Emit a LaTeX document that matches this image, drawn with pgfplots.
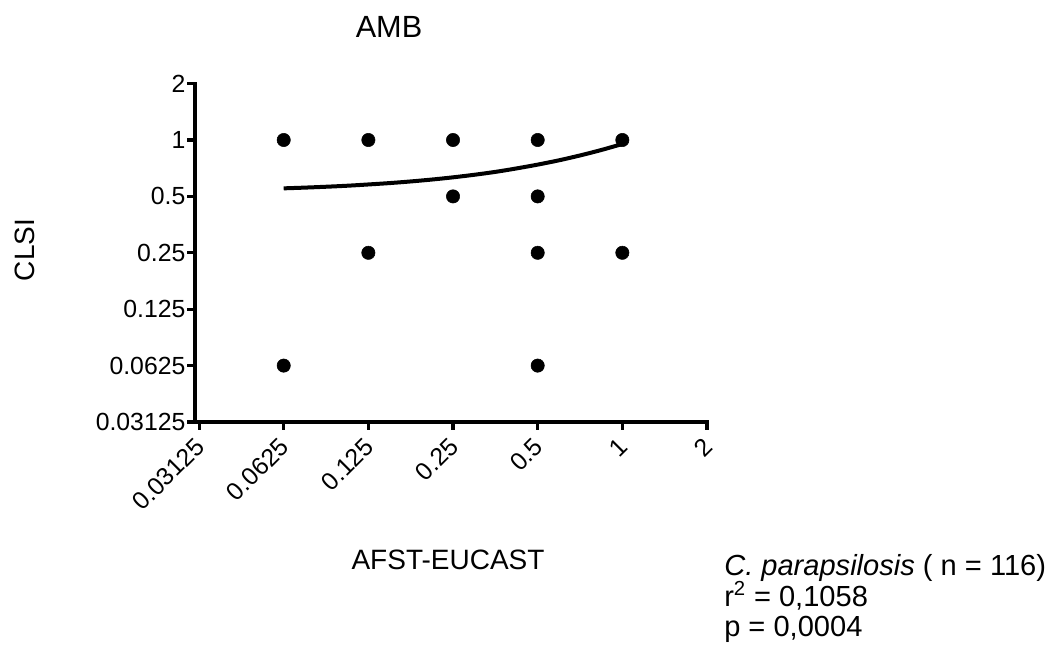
\documentclass[border=0pt]{standalone}
\usepackage{fontspec}
\setmainfont{Liberation Sans}
\usepackage{pgfplots}
\pgfplotsset{compat=1.18}
\begin{document}
\begin{tikzpicture}
\begin{axis}[
  name=ax, at={(0,0)}, anchor=south west,
  scale only axis, width=384pt, height=253.8pt,
  xmode=log, ymode=log, log basis x=2, log basis y=2,
  xmin=0.03023, xmax=2, ymin=0.03125, ymax=2,
  axis x line*=bottom, axis y line*=left,
  axis line style={line width=2.5pt, line cap=rect, -},
  xtick={0.03125,0.0625,0.125,0.25,0.5,1,2},
  xticklabels={0.03125,0.0625,0.125,0.25,0.5,1,2},
  ytick={0.03125,0.0625,0.125,0.25,0.5,1,2},
  yticklabels={0.03125,0.0625,0.125,0.25,0.5,1,2},
  xminorticks=false, yminorticks=false,
  tick align=outside, major tick length=6pt,
  every tick/.style={line width=2.3pt, black},
  xticklabel style={font=\fontsize{18.6}{21}\selectfont, xshift=-4pt, yshift=-3pt, rotate=45, anchor=north east, inner sep=1pt},
  yticklabel style={font=\fontsize{18.6}{21}\selectfont, inner sep=1pt},
  clip=false,
]
\addplot[only marks, mark=*, mark size=5pt, black] coordinates {
  (0.0625,1) (0.125,1) (0.25,1) (0.5,1) (1,1)
  (0.25,0.5) (0.5,0.5)
  (0.125,0.25) (0.5,0.25) (1,0.25)
  (0.0625,0.0625) (0.5,0.0625)
};
\addplot[black, line width=3pt, smooth, no marks] coordinates {
  (0.0625,0.552) (0.0743,0.557) (0.0884,0.563) (0.105,0.570) (0.125,0.579)
  (0.149,0.589) (0.177,0.601) (0.210,0.615) (0.25,0.632) (0.297,0.652)
  (0.354,0.676) (0.420,0.705) (0.5,0.739) (0.595,0.779) (0.707,0.827)
  (0.841,0.884) (1,0.952)
};
\end{axis}
\node[font=\fontsize{23}{27}\selectfont, anchor=center] at ([shift={(145.5pt,296.25pt)}]ax.south west) {AMB};
\node[font=\fontsize{21}{25}\selectfont, anchor=center, rotate=90] at ([shift={(-127.5pt,129pt)}]ax.south west) {CLSI};
\node[font=\fontsize{21}{25}\selectfont, anchor=center] at ([shift={(189.75pt,-103.5pt)}]ax.south west) {AFST-EUCAST};
\node[font=\fontsize{21.8}{25}\selectfont, anchor=base west, inner sep=0pt] at ([shift={(396.75pt,-114.75pt)}]ax.south west) {\textit{C. parapsilosis} ( n = 116)};
\node[font=\fontsize{21.8}{25}\selectfont, anchor=base west, inner sep=0pt] at ([shift={(396.75pt,-138pt)}]ax.south west) {r\textsuperscript{2} = 0,1058};
\node[font=\fontsize{21.8}{25}\selectfont, anchor=base west, inner sep=0pt] at ([shift={(396.75pt,-160.5pt)}]ax.south west) {p = 0,0004};
\pgfresetboundingbox
\path[use as bounding box] ([shift={(-146.25pt,-170.25pt)}]ax.south west) rectangle ([shift={(648pt,316.5pt)}]ax.south west);
\end{tikzpicture}
\end{document}
